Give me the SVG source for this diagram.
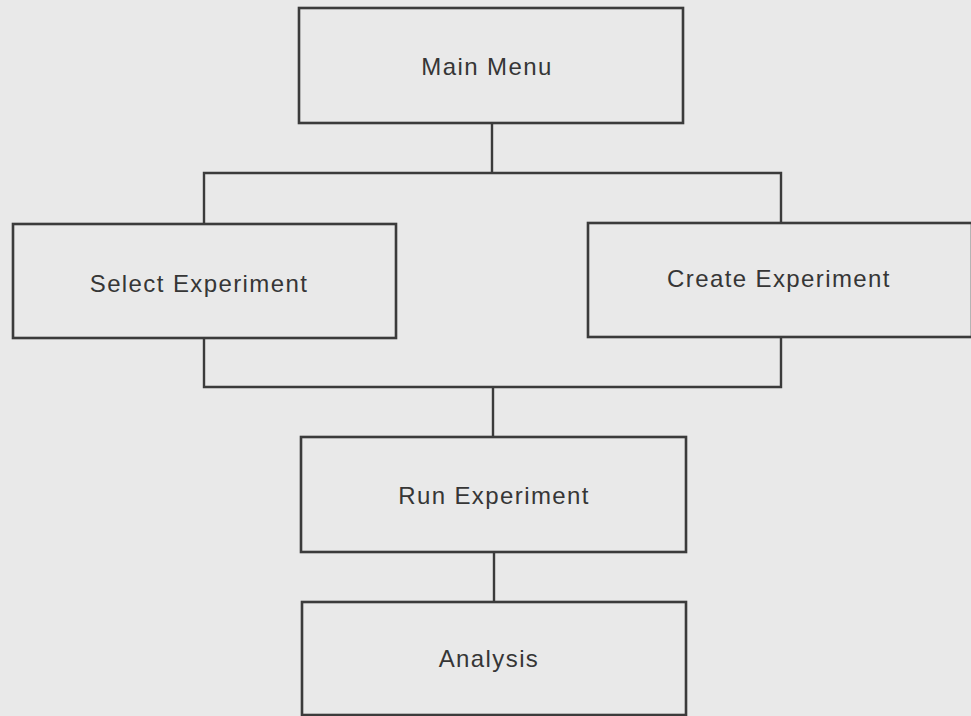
<svg xmlns="http://www.w3.org/2000/svg" width="971" height="716" viewBox="0 0 971 716">
<style>
.box{fill:#e9e9e9;stroke:#3b3b3b;stroke-width:2.6}
.lbl{font-family:"Liberation Sans",Arial,sans-serif;font-size:24px;letter-spacing:1.4px;fill:#363636;text-anchor:middle}
.conn{fill:none;stroke:#3b3b3b;stroke-width:2.4}
</style>
<rect x="0" y="0" width="971" height="716" fill="#e9e9e9"/>
<g id="connectors">
<path class="conn" d="M492 123 V173 M204 224 V173 H781 V223"/>
<path class="conn" d="M204 338 V387 H781 V337 M493 387 V437"/>
<path class="conn" d="M494 552 V602"/>
</g>
<g id="main-menu">
<rect class="box" x="299" y="8" width="384" height="115"/>
<text class="lbl" x="487" y="75">Main Menu</text>
</g>
<g id="select-experiment">
<rect class="box" x="13" y="224" width="383" height="114"/>
<text class="lbl" x="199" y="292">Select Experiment</text>
</g>
<g id="create-experiment">
<rect class="box" x="588" y="223" width="384" height="114"/>
<text class="lbl" x="779" y="287">Create Experiment</text>
</g>
<g id="run-experiment">
<rect class="box" x="301" y="437" width="385" height="115"/>
<text class="lbl" x="494" y="504">Run Experiment</text>
</g>
<g id="analysis">
<rect class="box" x="302" y="602" width="384" height="113"/>
<text class="lbl" x="489" y="667">Analysis</text>
</g>
</svg>
